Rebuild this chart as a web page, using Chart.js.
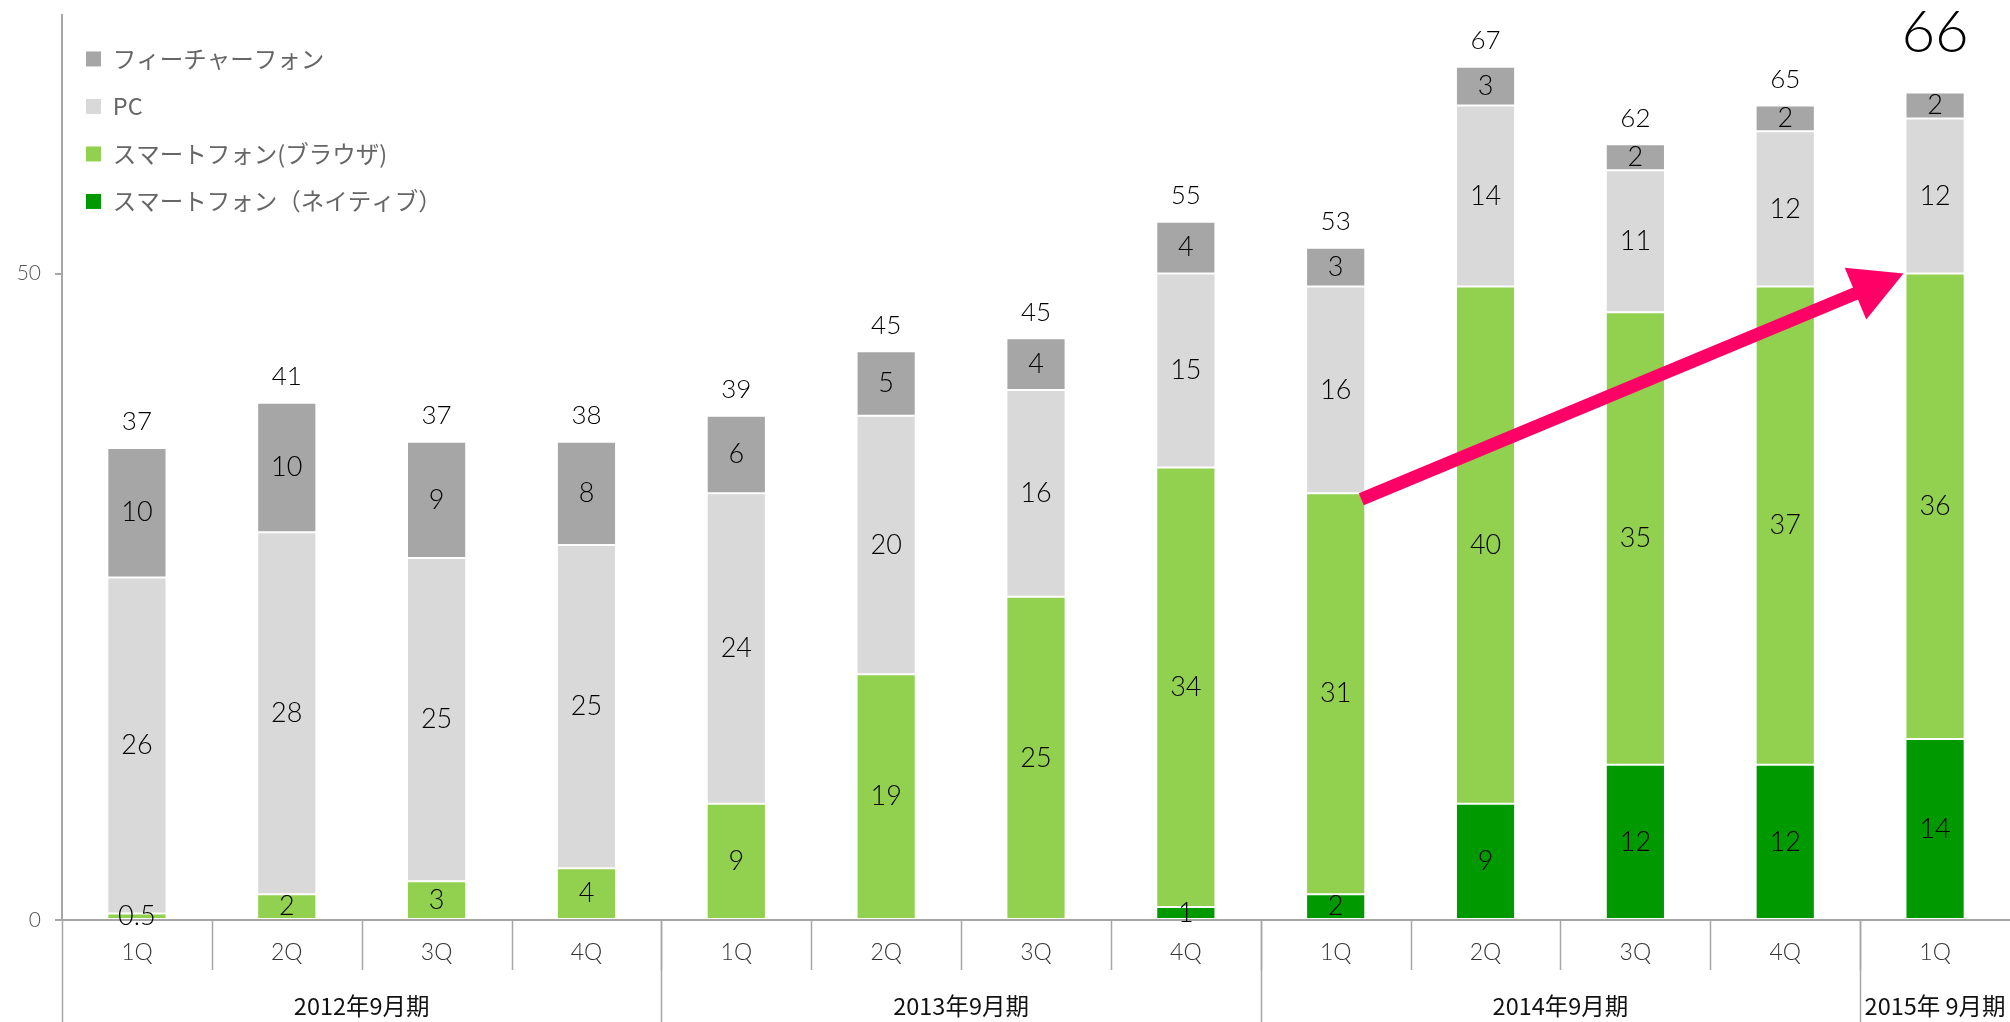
<!DOCTYPE html>
<html>
<head>
<meta charset="utf-8">
<script src="https://cdn.jsdelivr.net/npm/chart.js@4/dist/chart.umd.min.js"></script>
<style>
  body { margin: 0; background: #fff; }
  #wrap { width: 2010px; height: 1022px; }
</style>
</head>
<body>
<div id="wrap"><canvas id="salesChart"></canvas></div>
<script>
// quarters and fiscal years
var quarters = ['1Q', '2Q', '3Q', '4Q', '1Q', '2Q', '3Q', '4Q', '1Q', '2Q', '3Q', '4Q', '1Q'];
var years = ['2012年9月期', '2013年9月期', '2014年9月期', '2015年 9月期'];
var yearSpans = [4, 4, 4, 1];

// series values (stack order from bottom)
var smartNative  = [0, 0, 0, 0, 0, 0, 0, 1, 2, 9, 12, 12, 14];
var smartBrowser = [0.5, 2, 3, 4, 9, 19, 25, 34, 31, 40, 35, 37, 36];
var pc           = [26, 28, 25, 25, 24, 20, 16, 15, 16, 14, 11, 12, 12];
var featurePhone = [10, 10, 9, 8, 6, 5, 4, 4, 3, 3, 2, 2, 2];

// totals printed above the bars
var totals = [37, 41, 37, 38, 39, 45, 45, 55, 53, 67, 62, 65, 66];

var yTicks = [0, 50];

var numFont = "Lato, 'Noto Sans', sans-serif";
var jpFont = "'Noto Sans CJK JP', sans-serif";

// labels inside segments, totals, arrow, x-axis dividers
var decorPlugin = {
  id: 'decor',
  afterDatasetsDraw: function(chart) {
    var ctx = chart.ctx;
    ctx.save();
    ctx.textAlign = 'center';
    ctx.textBaseline = 'middle';
    ctx.fillStyle = '#000';
    ctx.font = '300 27px ' + numFont;
    chart.data.datasets.forEach(function(ds, di) {
      var meta = chart.getDatasetMeta(di);
      meta.data.forEach(function(bar, i) {
        var v = ds.data[i];
        if (!v) return;
        var yc = (bar.y + bar.base) / 2;
        ctx.fillText(String(v), bar.x, yc);
      });
    });

    // totals
    var topMeta = chart.getDatasetMeta(chart.data.datasets.length - 1);
    ctx.textBaseline = 'bottom';
    topMeta.data.forEach(function(bar, i) {
      var last = i === totals.length - 1;
      ctx.font = last ? '300 58px ' + numFont : '300 26px ' + numFont;
      ctx.fillText(String(totals[i]), bar.x, bar.y - (last ? 30 : 13));
    });

    // growth arrow: top of browser segment 2014 1Q -> top of browser segment 2015 1Q
    var brMeta = chart.getDatasetMeta(1);
    var from = brMeta.data[8], to = brMeta.data[12];
    var x1 = from.x + from.width / 2 - 4, y1 = from.y + 6;
    var x2 = to.x - to.width / 2 - 2, y2 = to.y;
    var ang = Math.atan2(y2 - y1, x2 - x1);
    var headLen = 52, headHalf = 28;
    var bx = x2 - headLen * Math.cos(ang), by = y2 - headLen * Math.sin(ang);
    ctx.strokeStyle = '#ff0066';
    ctx.fillStyle = '#ff0066';
    ctx.lineWidth = 13;
    ctx.beginPath();
    ctx.moveTo(x1, y1);
    ctx.lineTo(bx + 4 * Math.cos(ang), by + 4 * Math.sin(ang));
    ctx.stroke();
    ctx.beginPath();
    ctx.moveTo(x2, y2);
    ctx.lineTo(bx + headHalf * Math.sin(ang), by - headHalf * Math.cos(ang));
    ctx.lineTo(bx - headHalf * Math.sin(ang), by + headHalf * Math.cos(ang));
    ctx.closePath();
    ctx.fill();
    ctx.restore();
  },
  afterDraw: function(chart) {
    var ctx = chart.ctx;
    var xs = chart.scales.x;
    var area = chart.chartArea;
    var step = (area.right - area.left) / quarters.length;
    ctx.save();
    ctx.strokeStyle = '#a6a6a6';
    ctx.lineWidth = 1.5;
    // quarter dividers
    for (var i = 1; i < quarters.length; i++) {
      var x = Math.round(xs.getPixelForValue(i) - step / 2) + 0.5;
      ctx.beginPath();
      ctx.moveTo(x, area.bottom);
      ctx.lineTo(x, area.bottom + 50);
      ctx.stroke();
    }
    // year dividers and labels
    var idx = 0;
    ctx.fillStyle = '#111';
    ctx.font = '23.5px ' + jpFont;
    ctx.textAlign = 'center';
    ctx.textBaseline = 'middle';
    years.forEach(function(y, k) {
      var left = xs.getPixelForValue(idx) - step / 2;
      var right = xs.getPixelForValue(idx + yearSpans[k] - 1) + step / 2;
      var lx = Math.round(left) + 0.5;
      ctx.beginPath();
      ctx.moveTo(lx, area.bottom);
      ctx.lineTo(lx, chart.height);
      ctx.stroke();
      ctx.fillText(y, (left + right) / 2, area.bottom + 86);
      idx += yearSpans[k];
    });
    ctx.restore();
  }
};

var barOpts = { barPercentage: 0.395, categoryPercentage: 1, borderWidth: 1, borderColor: 'rgba(255,255,255,0.3)', borderSkipped: false };

new Chart(document.getElementById('salesChart'), {
  type: 'bar',
  data: {
    labels: quarters,
    datasets: [
      Object.assign({ label: 'スマートフォン（ネイティブ）', data: smartNative, backgroundColor: '#009900' }, barOpts),
      Object.assign({ label: 'スマートフォン(ブラウザ)', data: smartBrowser, backgroundColor: '#92d050' }, barOpts),
      Object.assign({ label: 'PC', data: pc, backgroundColor: '#d9d9d9' }, barOpts),
      Object.assign({ label: 'フィーチャーフォン', data: featurePhone, backgroundColor: '#a6a6a6' }, barOpts)
    ]
  },
  options: {
    responsive: true,
    maintainAspectRatio: false,
    animation: false,
    layout: { padding: { top: 15, left: 0, right: 0, bottom: 0 } },
    plugins: {
      tooltip: { enabled: false },
      legend: {
        position: 'chartArea',
        align: 'start',
        reverse: true,
        title: { display: true, text: '', padding: 8, font: { size: 6 } },
        labels: {
          boxWidth: 15,
          boxHeight: 15,
          padding: 24,
          color: '#111',
          font: { family: jpFont, size: 23.5 },
          generateLabels: function(chart) {
            return chart.data.datasets.map(function(ds, i) {
              return { text: ds.label, fillStyle: ds.backgroundColor, strokeStyle: ds.backgroundColor, lineWidth: 0, datasetIndex: i };
            });
          }
        }
      }
    },
    scales: {
      x: {
        stacked: true,
        grid: { display: false, drawTicks: false },
        border: { display: true, color: '#a6a6a6', width: 2 },
        ticks: { color: '#333', padding: 19, font: { family: numFont, size: 23, weight: '300' } },
        afterFit: function(scale) { scale.height = 102; }
      },
      y: {
        stacked: true,
        min: 0,
        max: 70,
        afterBuildTicks: function(scale) {
          scale.ticks = yTicks.map(function(v) { return { value: v }; });
        },
        grid: { drawOnChartArea: false, drawTicks: true, tickLength: 7, color: '#a6a6a6', lineWidth: 2 },
        border: { display: true, color: '#a6a6a6', width: 2 },
        ticks: { color: '#555', padding: 14, font: { family: numFont, size: 21, weight: '300' } },
        afterFit: function(scale) {
          scale.width = 62;
          scale.paddingTop = 0;
          scale.paddingBottom = 0;
        }
      }
    }
  },
  plugins: [decorPlugin]
});
</script>
</body>
</html>
